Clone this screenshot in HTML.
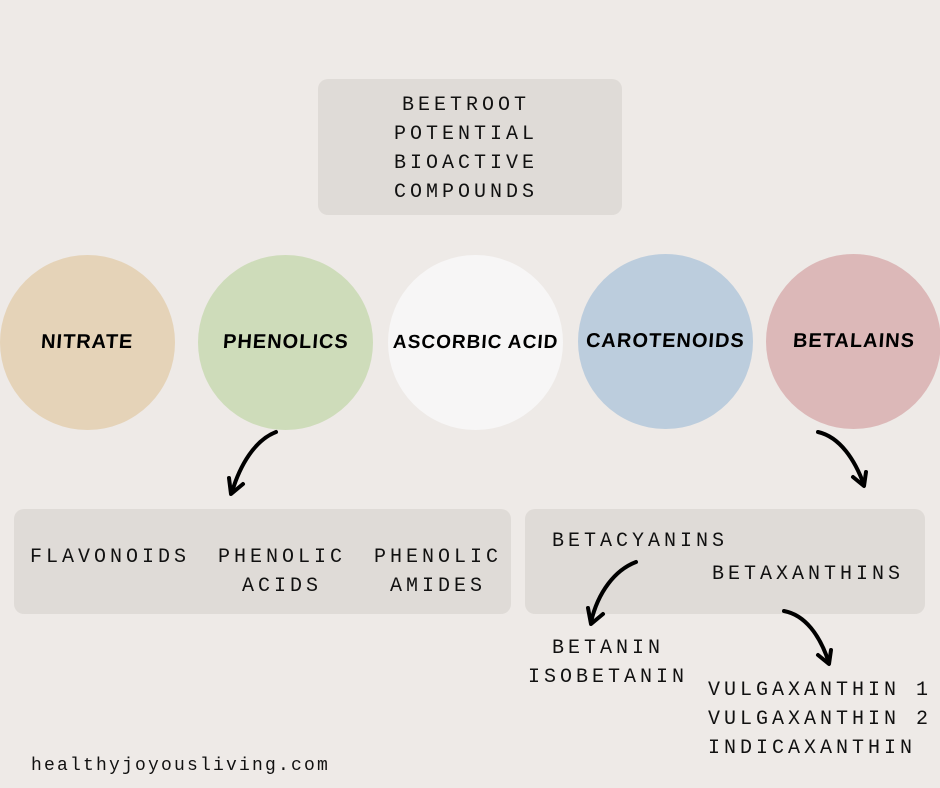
<!DOCTYPE html>
<html><head><style>
body{margin:0;width:940px;height:788px;background:#eeeae7;position:relative;overflow:hidden;font-family:"Liberation Mono",monospace;color:#111}
.t{position:absolute;font-size:20px;letter-spacing:4px;line-height:29px;text-align:center;white-space:nowrap}
.box{position:absolute;background:#dfdbd7;border-radius:10px}
.c{position:absolute;width:175px;height:175px;border-radius:50%;display:flex;align-items:center;justify-content:center;font-family:"Liberation Sans",sans-serif;font-weight:bold;font-size:20px;letter-spacing:1px;color:#000}
.c span{display:inline-block;transform:skewX(-4deg)}
</style></head><body>
<div class="box" style="left:318px;top:79px;width:304px;height:136px"></div>
<div class="t" style="left:314px;top:91px;width:304px">BEETROOT<br>POTENTIAL<br>BIOACTIVE<br>COMPOUNDS</div>

<div class="c" style="left:0;top:255px;background:#e5d3b8"><span>NITRATE</span></div>
<div class="c" style="left:198px;top:255px;background:#cedcba"><span>PHENOLICS</span></div>
<div class="c" style="left:388px;top:255px;background:#f7f6f6;font-size:19px"><span>ASCORBIC ACID</span></div>
<div class="c" style="left:578px;top:254px;background:#bccddd"><span>CAROTENOIDS</span></div>
<div class="c" style="left:766px;top:254px;background:#dcb8b8"><span>BETALAINS</span></div>

<div class="box" style="left:14px;top:509px;width:497px;height:105px"></div>
<div class="t" style="left:30px;top:543px">FLAVONOIDS</div>
<div class="t" style="left:214px;top:543px;width:136px">PHENOLIC<br>ACIDS</div>
<div class="t" style="left:370px;top:543px;width:136px">PHENOLIC<br>AMIDES</div>

<div class="box" style="left:525px;top:509px;width:400px;height:105px"></div>
<div class="t" style="left:552px;top:527px">BETACYANINS</div>
<div class="t" style="left:712px;top:560px">BETAXANTHINS</div>
<div class="t" style="left:522px;top:634px;width:172px">BETANIN<br>ISOBETANIN</div>
<div class="t" style="left:708px;top:676px;text-align:left">VULGAXANTHIN 1<br>VULGAXANTHIN 2<br>INDICAXANTHIN</div>
<div class="t" style="left:31px;top:752px;letter-spacing:2.2px;font-size:18px">healthyjoyousliving.com</div>

<svg width="940" height="788" style="position:absolute;left:0;top:0" fill="none" stroke="#000" stroke-width="4" stroke-linecap="round" stroke-linejoin="round">
<path d="M276 432 C255 440 240 465 232 492"/><path d="M229 478 L231 494 L243 484"/>
<path d="M818 432 C840 437 855 460 864 485"/><path d="M853 477 L864 486 L866 472"/>
<path d="M636 562 C615 570 598 592 591 622"/><path d="M588 608 L591 624 L603 614"/>
<path d="M784 611 C805 615 820 635 829 663"/><path d="M818 655 L829 664 L831 650"/>
</svg>
</body></html>
